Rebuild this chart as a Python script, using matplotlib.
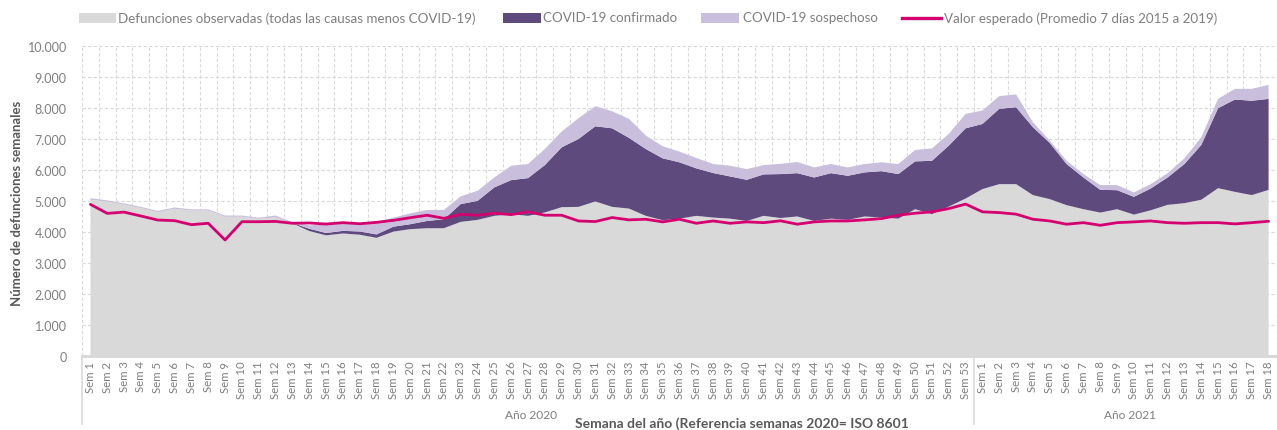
import matplotlib
matplotlib.use("Agg")
import matplotlib.pyplot as plt
import matplotlib.transforms as mtransforms
from matplotlib.patches import Rectangle
from matplotlib.lines import Line2D
import numpy as np

plt.rcParams['font.family'] = ['Lato', 'DejaVu Sans']

# ---------------- data ----------------
weeks_2020 = [f"Sem {i}" for i in range(1, 54)]
weeks_2021 = [f"Sem {i}" for i in range(1, 19)]

observed_2020 = [5040, 4980, 4880, 4770, 4640, 4750, 4690, 4690, 4490, 4490,
                 4420, 4470, 4280, 4030, 3890, 3950, 3910, 3810, 4010, 4090,
                 4120, 4120, 4325, 4390, 4520, 4575, 4520, 4630, 4800, 4810,
                 4985, 4810, 4755, 4520, 4380, 4430, 4520, 4465, 4430, 4355,
                 4520, 4450, 4500, 4355, 4430, 4390, 4500, 4465, 4430, 4735,
                 4575, 4820, 5080]
observed_2021 = [5385, 5545, 5545, 5190, 5060, 4865, 4735, 4625, 4735, 4560,
                 4700, 4875, 4930, 5040, 5415, 5295, 5190, 5360]

confirmed_2020 = [0, 0, 0, 0, 0, 0, 0, 0, 0, 0,
                  0, 0, 10, 75, 75, 85, 105, 110, 160, 160,
                  235, 290, 575, 615, 920, 1100, 1220, 1530, 1935, 2195,
                  2430, 2540, 2285, 2160, 2000, 1820, 1535, 1440, 1365, 1330,
                  1340, 1420, 1400, 1405, 1470, 1425, 1425, 1500, 1440, 1545,
                  1725, 1970, 2270]
confirmed_2021 = [2105, 2435, 2485, 2195, 1815, 1330, 1025, 735, 615, 575,
                  705, 885, 1265, 1770, 2585, 2985, 3050, 2940]

suspected_2020 = [50, 40, 40, 40, 40, 40, 40, 40, 40, 40,
                  40, 60, 30, 110, 280, 230, 250, 400, 290, 350,
                  355, 300, 250, 325, 320, 465, 455, 520, 510, 670,
                  650, 550, 615, 435, 390, 345, 335, 290, 345, 345,
                  300, 330, 360, 325, 295, 270, 270, 285, 325, 370,
                  400, 380, 465]
suspected_2021 = [435, 410, 415, 160, 75, 105, 110, 155, 165, 140,
                  140, 140, 185, 250, 300, 345, 385, 455]

expected_2020 = [4890, 4600, 4640, 4515, 4385, 4365, 4235, 4280, 3740, 4330,
                 4330, 4340, 4280, 4290, 4255, 4300, 4265, 4310, 4375, 4460,
                 4540, 4440, 4570, 4540, 4605, 4560, 4650, 4540, 4540, 4355,
                 4335, 4465, 4390, 4410, 4325, 4410, 4280, 4355, 4280, 4325,
                 4300, 4360, 4250, 4325, 4355, 4355, 4390, 4430, 4540, 4605,
                 4650, 4755, 4900]
expected_2021 = [4650, 4625, 4575, 4410, 4355, 4250, 4300, 4215, 4300, 4325,
                 4355, 4300, 4280, 4300, 4300, 4260, 4300, 4345]

legend_labels = ["Defunciones observadas (todas las causas menos COVID-19)",
                 "COVID-19 confirmado",
                 "COVID-19 sospechoso",
                 "Valor esperado (Promedio 7 días 2015 a 2019)"]
year_labels = ["Año 2020", "Año 2021"]

# ---------------- styling ----------------
C_GREY = "#d9d9d9"
C_DARK = "#5f4a7e"
C_LIGHT = "#c9bfdc"
C_MAG = "#d4006f"
C_TXT = "#7f7f7f"
C_BOLD = "#595959"
C_GRID = "#d9d9d9"

W, H = 1277, 431
fig = plt.figure(figsize=(W / 100, H / 100), dpi=100)
ax_left, ax_bottom, ax_top = 82, 356.7, 47.3
ax = fig.add_axes([ax_left / W, (H - ax_bottom) / H, (W - ax_left) / W,
                   (ax_bottom - ax_top) / H])

labels = weeks_2020 + weeks_2021
observed = observed_2020 + observed_2021
confirmed = confirmed_2020 + confirmed_2021
suspected = suspected_2020 + suspected_2021
expected = expected_2020 + expected_2021
x = np.arange(len(labels))

ax.stackplot(x, observed, confirmed, suspected,
             colors=[C_GREY, C_DARK, C_LIGHT], linewidth=0, zorder=2)
ax.plot(x, expected, color=C_MAG, lw=2.0, solid_joinstyle="round",
        solid_capstyle="round", zorder=3)

ax.set_xlim(-0.5, 70.18)
ax.set_ylim(0, 10000)
yt = list(range(0, 10001, 1000))
ax.set_yticks(yt)
ax.set_yticklabels([f"{v:,}".replace(",", ".") for v in yt])
ax.set_xticks(x)
ax.set_xticklabels(labels, rotation=90)
ax.set_xticks(np.arange(-0.5, len(labels) + 0.5, 1), minor=True)

ax.grid(which="major", axis="y", color=C_GRID, lw=0.8, ls=(0, (3, 2)))
ax.grid(which="minor", axis="x", color=C_GRID, lw=0.8, ls=(0, (3, 2)))
ax.grid(which="major", axis="x", visible=False)
ax.set_axisbelow(True)

for s in ["top", "right", "left"]:
    ax.spines[s].set_visible(False)
ax.spines["bottom"].set_color(C_GREY)
ax.spines["bottom"].set_linewidth(2.2)
ax.spines["bottom"].set_zorder(4)

ax.tick_params(axis="both", which="both", length=0)
ax.tick_params(axis="y", pad=11, labelsize=9, labelcolor=C_TXT)
ax.tick_params(axis="x", pad=3.5, labelsize=8.2, labelcolor=C_TXT)

# group separators below the axis
trans = mtransforms.blended_transform_factory(ax.transData, ax.transAxes)
for xs in [-0.5, len(weeks_2020) - 0.5]:
    ax.add_line(Line2D([xs, xs], [0, -(425 - ax_bottom) / (ax_bottom - ax_top)],
                       transform=trans, clip_on=False, color=C_GREY, lw=1.2))

# year labels
fig.text(531 / W, 1 - 416 / H, year_labels[0], ha="center", va="center",
         fontsize=8.6, color=C_TXT)
fig.text(1130 / W, 1 - 416 / H, year_labels[1], ha="center", va="center",
         fontsize=8.6, color=C_TXT)

# axis titles
fig.text(742 / W, 1 - 424 / H, "Semana del año (Referencia semanas 2020= ISO 8601",
         ha="center", va="center", fontsize=10, fontweight="bold", color=C_BOLD)
fig.text(17 / W, 1 - 203 / H, "Número de defunciones semanales", rotation=90,
         ha="center", va="center", fontsize=9.5, fontweight="bold", color=C_BOLD)

# manual legend
ly = 1 - 18.5 / H
patch_h = 10 / H
items = [(79, 116, C_GREY, "patch", 118),
         (503, 541, C_DARK, "patch", 543),
         (701, 739, C_LIGHT, "patch", 743),
         (902, 941, C_MAG, "line", 944)]
for (x0, x1, col, kind, tx), lab in zip(items, legend_labels):
    if kind == "patch":
        fig.patches.append(Rectangle((x0 / W, ly - patch_h / 2), (x1 - x0) / W,
                                     patch_h, transform=fig.transFigure,
                                     facecolor=col, edgecolor="none"))
    else:
        fig.lines.append(Line2D([x0 / W, x1 / W], [ly, ly], transform=fig.transFigure,
                                color=col, lw=2.4))
    fig.text(tx / W, ly, lab, ha="left", va="center", fontsize=9.6, color=C_TXT)

fig.savefig("out.png", dpi=100)
